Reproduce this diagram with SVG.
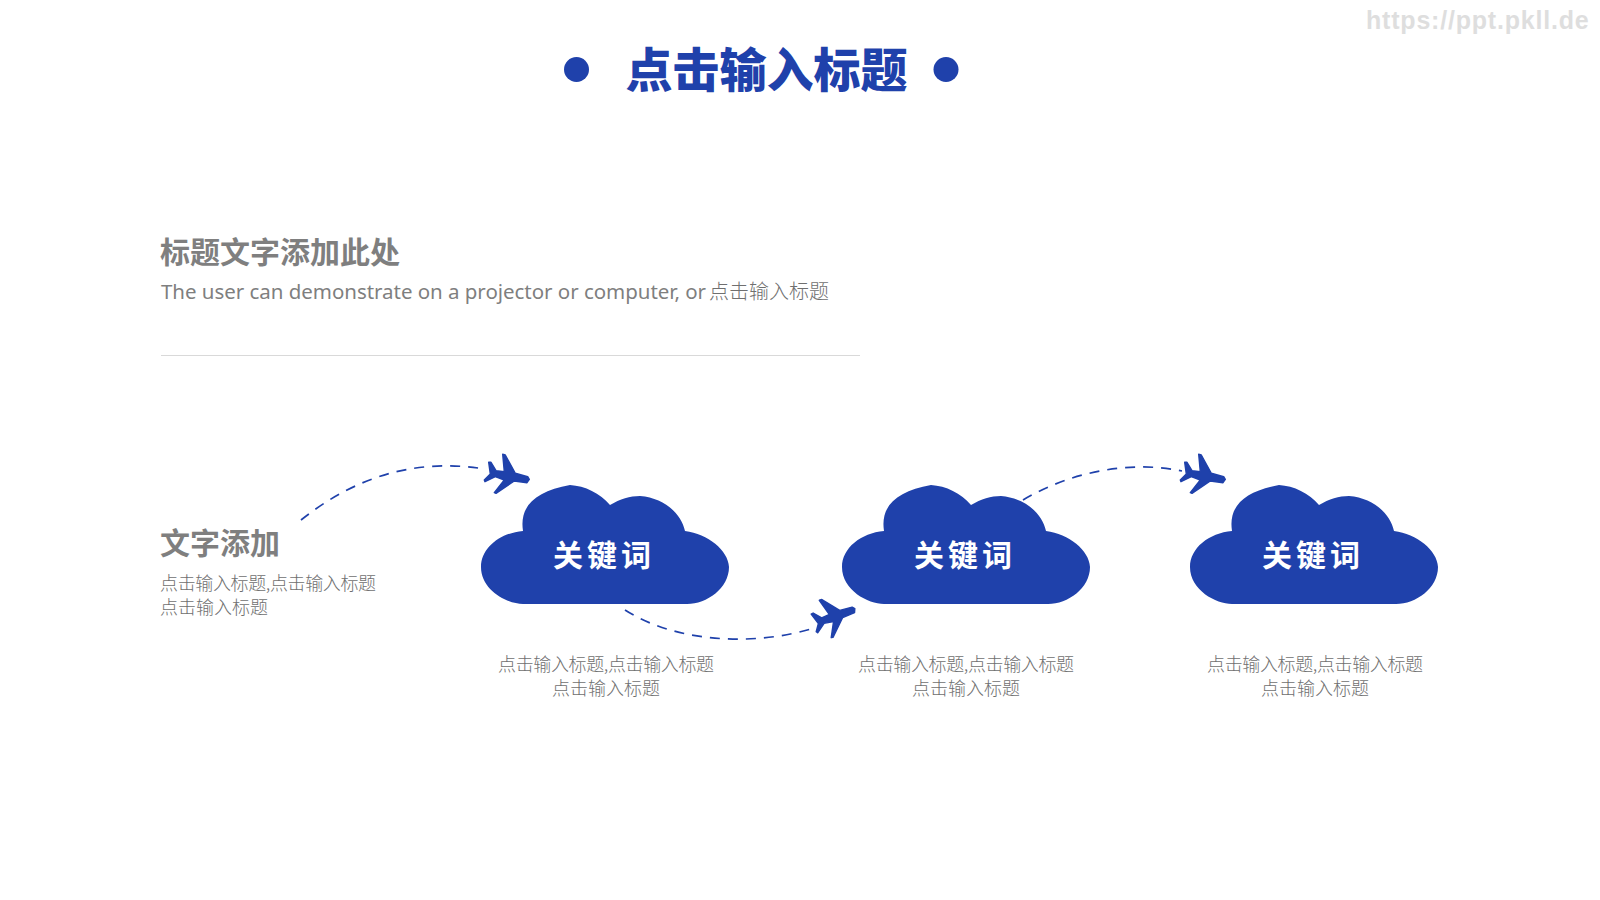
<svg xmlns="http://www.w3.org/2000/svg" width="1600" height="900" viewBox="0 0 1600 900">
<style>
text{font-family:"Noto Sans CJK SC","Noto Sans",sans-serif}
.h{font-size:30px;font-weight:700;fill:#7f7f7f}
.s{font-size:18px;font-weight:300;fill:#6f6f6f}
.c{text-anchor:middle}
.k{font-size:30px;font-weight:700;fill:#fff;text-anchor:middle;letter-spacing:4px}
.d{fill:none;stroke:#1f41ab;stroke-width:1.700;stroke-dasharray:10 8}
.f{fill:#1f41ab}
.p{fill:#1f41ab;stroke:#1f41ab;stroke-width:1.400;stroke-linejoin:round}
</style>
<defs>
<path id="cloud" d="M523,604C507,604 481,590 481,567C481,548 500,533 523,531C519,505 537,491 570,485C585,486 600,493 610,505C620,499 630,496 640,496C664,498 681,513 685,531C708,534 728,550 729,567C729,588 707,604 687,604Z"/>
<path id="plane" d="M23.3,4.3L21,7.7L8.3,6L-10,18.3L-11.7,17.7L-1.7,5L-10.7,1.7L-21,6.7L-21.7,5L-15.7,-1L-17.3,-12.7L-15,-12.7L-10,-4.3L-1.700,-3.300L-3.300,-20.700L-.7,-20L9.300,-1.700L21.700,1.700Z"/>
</defs>
<rect width="1600" height="900" fill="#fff"/>
<text id="watermark" x="1366" y="28.500" font-size="25" font-weight="700" fill="#dedede" letter-spacing=".8" style="font-family:'Liberation Sans',sans-serif">https://ppt.pkll.de</text>
<g id="title">
<circle cx="576.500" cy="69.500" r="12.500" class="f"/>
<circle cx="946" cy="69.500" r="12.500" class="f"/>
<text x="766.500" y="87" class="c f" font-size="47" font-weight="900">点击输入标题</text>
</g>
<g id="intro">
<text x="160" y="263" class="h">标题文字添加此处</text>
<text x="161" y="299" font-size="20.500" fill="#7f7f7f" style="font-family:'Noto Sans',sans-serif" textLength="545">The user can demonstrate on a projector or computer, or</text>
<text x="709" y="299" font-size="20" font-weight="300" fill="#6f6f6f">点击输入标题</text>
<line x1="161" y1="355.500" x2="860" y2="355.500" stroke="#d9d9d9" stroke-width="1"/>
</g>
<g id="side">
<text x="160" y="554" class="h">文字添加</text>
<text x="160" y="589.500" class="s" textLength="216">点击输入标题,点击输入标题</text>
<text x="160" y="613.500" class="s">点击输入标题</text>
</g>
<g id="connectors">
<path class="d" d="M301,520C345,485 405,456 485,469"/>
<path class="d" d="M625,610C680,645 760,645 814,628"/>
<path class="d" d="M1023,500C1070,472 1130,460 1182,471"/>
</g>
<g id="plane-1"><use href="#plane" class="p" transform="translate(506 475)"/></g>
<g id="plane-2"><use href="#plane" class="p" transform="translate(832.500 616.500) rotate(-30)"/></g>
<g id="plane-3"><use href="#plane" class="p" transform="translate(1202 475)"/></g>
<g id="node-1">
<use href="#cloud" class="f"/>
<text x="604" y="566" class="k">关键词</text>
<text x="606" y="670.500" class="s c" textLength="216">点击输入标题,点击输入标题</text>
<text x="606" y="694.500" class="s c">点击输入标题</text>
</g>
<g id="node-2">
<use href="#cloud" class="f" x="361"/>
<text x="965" y="566" class="k">关键词</text>
<text x="966" y="670.500" class="s c" textLength="216">点击输入标题,点击输入标题</text>
<text x="966" y="694.500" class="s c">点击输入标题</text>
</g>
<g id="node-3">
<use href="#cloud" class="f" x="709"/>
<text x="1313" y="566" class="k">关键词</text>
<text x="1315" y="670.500" class="s c" textLength="216">点击输入标题,点击输入标题</text>
<text x="1315" y="694.500" class="s c">点击输入标题</text>
</g>
</svg>
